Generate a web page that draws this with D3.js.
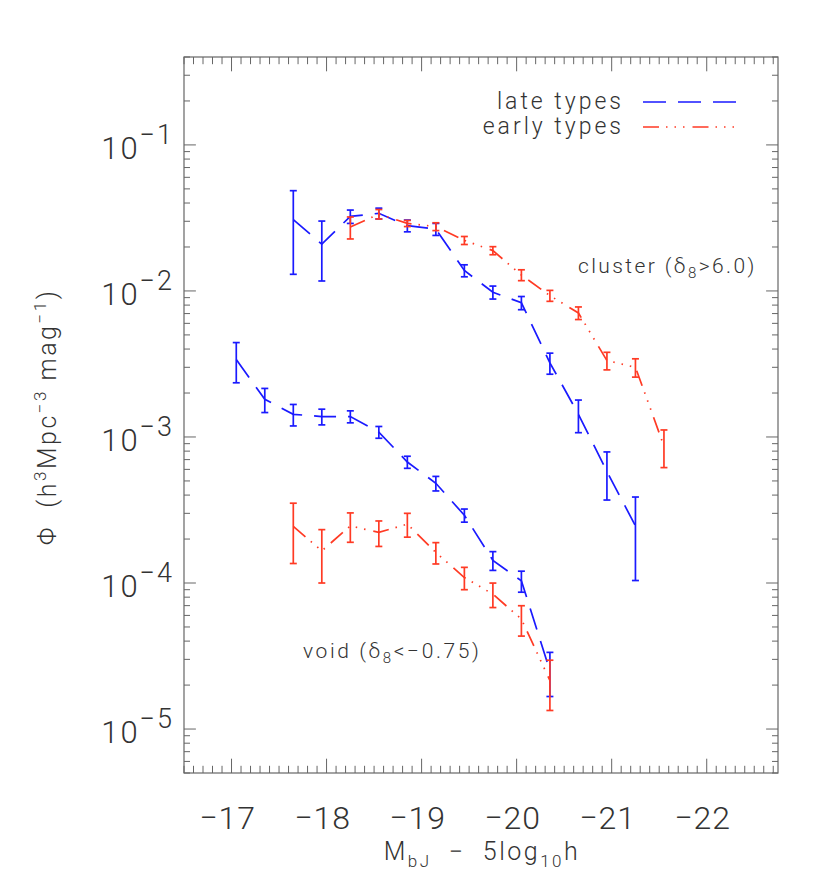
<!DOCTYPE html>
<html>
<head>
<meta charset="utf-8">
<script src="https://cdn.jsdelivr.net/npm/d3@7"></script>
<style>
  html, body { margin: 0; padding: 0; background: #fff; }
  text { font-family: "Roboto", "Liberation Sans", sans-serif; font-weight: 300; fill: #333; }
</style>
</head>
<body>
<svg id="chart" width="830" height="891"></svg>
<script>
// ---- data ----
const xTickValues = [-17, -18, -19, -20, -21, -22];
const yTickExponents = [-1, -2, -3, -4, -5];

const clusterLateM   = [-17.65, -17.95, -18.25, -18.55, -18.85, -19.15, -19.45, -19.75, -20.05, -20.35, -20.65, -20.95, -21.25];
const clusterLatePhi = [0.0308, 0.0209, 0.0324, 0.0340, 0.0280, 0.0265, 0.0138, 0.0098, 0.0083, 0.00322, 0.00143, 0.00058, 0.000246];
const clusterLateErr = [0.0178, 0.0092, 0.0034, 0.0029, 0.0026, 0.0025, 0.0013, 0.0010, 0.00086, 0.00053, 0.00036, 0.00021, 0.000142];

const clusterEarlyM   = [-18.25, -18.55, -18.85, -19.15, -19.45, -19.75, -20.05, -20.35, -20.65, -20.95, -21.25, -21.55];
const clusterEarlyPhi = [0.0274, 0.0336, 0.0290, 0.0276, 0.0222, 0.0189, 0.01286, 0.00929, 0.00707, 0.00334, 0.00300, 0.000867];
const clusterEarlyErr = [0.0047, 0.0025, 0.0014, 0.0017, 0.0014, 0.0012, 0.0011, 0.0008, 0.0007, 0.00046, 0.00043, 0.00025];

const voidLateM   = [-17.05, -17.35, -17.65, -17.95, -18.25, -18.55, -18.85, -19.15, -19.45, -19.75, -20.05, -20.35];
const voidLatePhi = [0.00339, 0.00181, 0.00143, 0.00138, 0.00138, 0.00108, 0.000674, 0.000482, 0.000291, 0.000143, 0.0001035, 0.0000251];
const voidLateErr = [0.00104, 0.00034, 0.00024, 0.00017, 0.00013, 0.00010, 0.000064, 0.000055, 0.000030, 0.000021, 0.000017, 0.0000084];

const voidEarlyM   = [-17.65, -17.95, -18.25, -18.55, -18.85, -19.15, -19.45, -19.75, -20.05, -20.35];
const voidEarlyPhi = [0.000244, 0.000166, 0.000246, 0.000222, 0.000253, 0.000162, 0.000109, 0.0000839, 0.0000566, 0.0000215];
const voidEarlyErr = [0.000108, 0.000066, 0.000056, 0.000044, 0.000047, 0.000027, 0.000019, 0.000016, 0.0000133, 0.0000081];

const legendLabels = ["late types", "early types"];

// ---- layout ----
const svg = d3.select("#chart");
const L = 184, R = 778, T = 57, B = 773;
const blue = "#1a1aff", red = "#ff3a24", axisColor = "#666";

const x = d3.scaleLinear().domain([-16.5, -22.75]).range([L, R]);
const y = d3.scaleLog().domain([5e-6, 0.4]).range([B, T]);

const series = [
  {M: clusterLateM, phi: clusterLatePhi, err: clusterLateErr, color: blue, dash: "22,12"},
  {M: clusterEarlyM, phi: clusterEarlyPhi, err: clusterEarlyErr, color: red, dash: "16,7,1.5,7,1.5,7,1.5,8"},
  {M: voidLateM, phi: voidLatePhi, err: voidLateErr, color: blue, dash: "22,12"},
  {M: voidEarlyM, phi: voidEarlyPhi, err: voidEarlyErr, color: red, dash: "16,7,1.5,7,1.5,7,1.5,8"}
];

// frame
svg.append("rect").attr("x", L).attr("y", T).attr("width", R - L).attr("height", B - T)
  .attr("fill", "none").attr("stroke", axisColor).attr("stroke-width", 1.2);

// x ticks (top & bottom), inward
const xMajorLen = 14.3, xMinorLen = 7.2;
const xMinor = d3.range(-165, -228, -1).map(v => v / 10).filter(v => v <= -16.5 && v >= -22.75);
const gx = svg.append("g");
xMinor.forEach(v => {
  const isMajor = Math.abs(v - Math.round(v)) < 1e-6;
  const len = isMajor ? xMajorLen : xMinorLen;
  gx.append("line").attr("x1", x(v)).attr("x2", x(v)).attr("y1", B).attr("y2", B - len)
    .attr("stroke", axisColor).attr("stroke-width", 1);
  gx.append("line").attr("x1", x(v)).attr("x2", x(v)).attr("y1", T).attr("y2", T + len)
    .attr("stroke", axisColor).attr("stroke-width", 1);
});
xTickValues.forEach(v => {
  gx.append("text").attr("x", x(v) - 4).attr("y", 829).attr("text-anchor", "middle")
    .attr("font-size", 32).attr("letter-spacing", 1).text("\u2212" + Math.abs(v));
});

// y ticks (left & right), inward
const yMajorLen = 11.9, yMinorLen = 6;
const gy = svg.append("g");
for (let e = -6; e <= 0; e++) {
  for (let k = 1; k <= 9; k++) {
    const v = k * Math.pow(10, e);
    if (v < 5e-6 * 0.999 || v > 0.4 * 1.001) continue;
    const len = k === 1 ? yMajorLen : yMinorLen;
    gy.append("line").attr("x1", L).attr("x2", L + len).attr("y1", y(v)).attr("y2", y(v))
      .attr("stroke", axisColor).attr("stroke-width", 1);
    gy.append("line").attr("x1", R).attr("x2", R - len).attr("y1", y(v)).attr("y2", y(v))
      .attr("stroke", axisColor).attr("stroke-width", 1);
  }
}
yTickExponents.forEach(e => {
  const yy = y(Math.pow(10, e));
  const t = gy.append("text").attr("x", 174).attr("y", yy + 14).attr("text-anchor", "end")
    .attr("font-size", 31).attr("letter-spacing", 2);
  t.append("tspan").text("10");
  t.append("tspan").attr("dy", -15).attr("font-size", 27).text("\u2212" + Math.abs(e));
});

// axis titles
const xt = svg.append("text").attr("x", 482).attr("y", 860).attr("text-anchor", "middle")
  .attr("font-size", 25).attr("letter-spacing", 2.5);
xt.append("tspan").text("M");
xt.append("tspan").attr("dy", 7).attr("font-size", 17).text("bJ");
xt.append("tspan").attr("dy", -7).text("\u00A0\u00A0\u2212\u00A0\u00A05log");
xt.append("tspan").attr("dy", 7).attr("font-size", 17).text("10");
xt.append("tspan").attr("dy", -7).text("h");

const yt = svg.append("text").attr("transform", "translate(56,417) rotate(-90)")
  .attr("text-anchor", "middle").attr("font-size", 25).attr("letter-spacing", 2.5);
yt.append("tspan").text("\u03A6\u00A0\u00A0(h");
yt.append("tspan").attr("dy", -10).attr("font-size", 17).text("3");
yt.append("tspan").attr("dy", 10).text("Mpc");
yt.append("tspan").attr("dy", -10).attr("font-size", 17).text("\u22123");
yt.append("tspan").attr("dy", 10).text("\u00A0mag");
yt.append("tspan").attr("dy", -10).attr("font-size", 17).text("\u22121");
yt.append("tspan").attr("dy", 10).text(")");

// data
const line = d3.line().x(d => x(d.m)).y(d => y(d.p));
series.forEach(s => {
  const pts = s.M.map((m, i) => ({m, p: s.phi[i], e: s.err[i]}));
  svg.append("path").datum(pts).attr("d", line).attr("fill", "none")
    .attr("stroke", s.color).attr("stroke-width", 1.7).attr("stroke-dasharray", s.dash);
  const g = svg.append("g").attr("stroke", s.color).attr("stroke-width", 1.7);
  pts.forEach(d => {
    const y1 = y(d.p + d.e), y2 = y(Math.max(d.p - d.e, 1e-9));
    g.append("line").attr("x1", x(d.m)).attr("x2", x(d.m)).attr("y1", y1).attr("y2", y2);
    g.append("line").attr("x1", x(d.m) - 3.5).attr("x2", x(d.m) + 3.5).attr("y1", y1).attr("y2", y1);
    g.append("line").attr("x1", x(d.m) - 3.5).attr("x2", x(d.m) + 3.5).attr("y1", y2).attr("y2", y2);
  });
});

// legend
const legY = [102, 127];
const legColors = [blue, red];
const legDash = ["23,12", "16,7,1.5,7,1.5,7,1.5,8"];
legendLabels.forEach((lab, i) => {
  svg.append("text").attr("x", 624).attr("y", legY[i] + 7).attr("text-anchor", "end")
    .attr("font-size", 23).attr("letter-spacing", 3).text(lab);
  svg.append("line").attr("x1", 643).attr("x2", 737).attr("y1", legY[i]).attr("y2", legY[i])
    .attr("stroke", legColors[i]).attr("stroke-width", 1.5).attr("stroke-dasharray", legDash[i]);
});

// annotations
const a1 = svg.append("text").attr("x", 578).attr("y", 273).attr("font-size", 21).attr("letter-spacing", 2.4);
a1.append("tspan").text("cluster\u00A0(\u03B4");
a1.append("tspan").attr("dy", 5).attr("font-size", 15).text("8");
a1.append("tspan").attr("dy", -5).text(">6.0)");

const a2 = svg.append("text").attr("x", 303).attr("y", 658).attr("font-size", 21).attr("letter-spacing", 2.6);
a2.append("tspan").text("void\u00A0(\u03B4");
a2.append("tspan").attr("dy", 5).attr("font-size", 15).text("8");
a2.append("tspan").attr("dy", -5).text("<\u22120.75)");
</script>
</body>
</html>
